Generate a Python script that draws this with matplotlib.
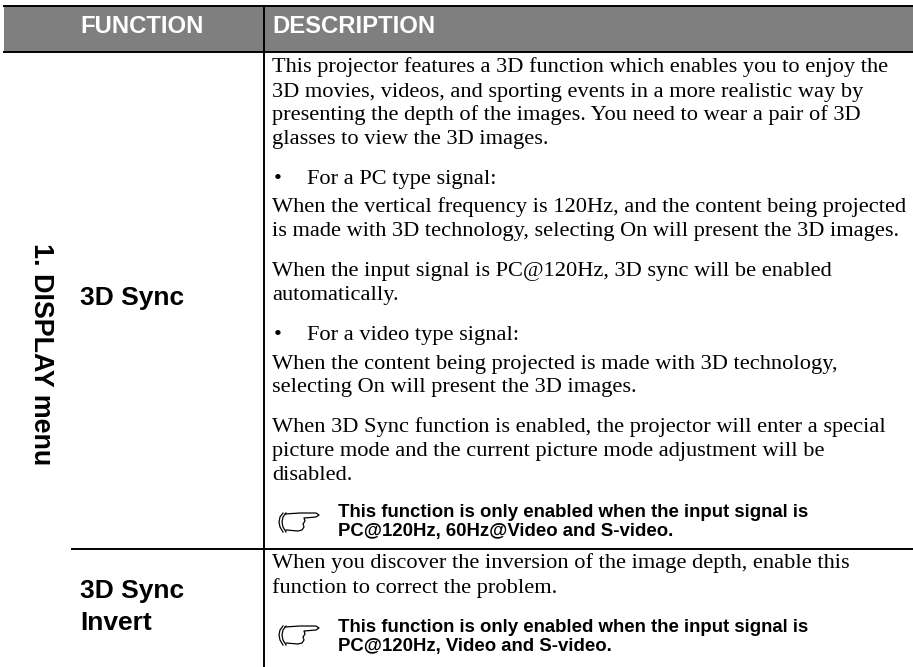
"""
Projector manual table page, 3D Sync rows
"""

import matplotlib.pyplot as plt

W, H = 913, 667

headers = ["FUNCTION", "DESCRIPTION"]
menu_label = "1. DISPLAY menu"
row_names = [(305, "3D Sync"), (598, "3D Sync"), (630, "Invert")]

body_lines = [
    (72, "This projector features a 3D function which enables you to enjoy the"),
    (97, "3D movies, videos, and sporting events in a more realistic way by"),
    (120, "presenting the depth of the images. You need to wear a pair of 3D"),
    (144, "glasses to view the 3D images."),
    (212, "When the vertical frequency is 120Hz, and the content being projected"),
    (236, "is made with 3D technology, selecting On will present the 3D images."),
    (276, "When the input signal is PC@120Hz, 3D sync will be enabled"),
    (300, "automatically."),
    (369, "When the content being projected is made with 3D technology,"),
    (392, "selecting On will present the 3D images."),
    (432, "When 3D Sync function is enabled, the projector will enter a special"),
    (456, "picture mode and the current picture mode adjustment will be"),
    (480, "disabled."),
    (568, "When you discover the inversion of the image depth, enable this"),
    (593, "function to correct the problem."),
]
bullet_lines = [
    (184, "For a PC type signal:"),
    (340, "For a video type signal:"),
]
note_lines = [
    (517, "This function is only enabled when the input signal is"),
    (536, "PC@120Hz, 60Hz@Video and S-video."),
    (632, "This function is only enabled when the input signal is"),
    (651, "PC@120Hz, Video and S-video."),
]
note_icons_y = [512, 625]

# hand outline, px from the icon corner
hand_x = [7, 22, 38, 41, 38, 26, 27, 25, 26, 24, 20, 8]
hand_y = [2, 1, 1, 3, 5, 6, 9, 12, 15, 18, 19, 18]
cuff_x = [5, 2, 1, 2, 5]
cuff_y = [1, 5, 10, 15, 20]

fig = plt.figure(figsize=(W / 100, H / 100), dpi=100)
ax = fig.add_axes([0, 0, 1, 1])
ax.set_xlim(0, W)
ax.set_ylim(H, 0)
ax.axis("off")

ax.fill_between([4, W], 6, 52, color="#7f7f7f", lw=0)
ax.plot([4, W], [6, 6], color="k", lw=1.4)
ax.plot([4, W], [52, 52], color="k", lw=1.4)
ax.plot([72, W], [549, 549], color="k", lw=1.4)
ax.plot([263.5, 263.5], [6, H], color="k", lw=1.4)

ax.text(80, 33, headers[0], color="white", family="Liberation Sans",
        weight="bold", fontsize=17.2, va="baseline")
ax.text(272, 33, headers[1], color="white", family="Liberation Sans",
        weight="bold", fontsize=17.2, va="baseline")

ax.text(41, 354.5, menu_label, rotation=270, family="Liberation Sans",
        weight="bold", fontsize=19.4, ha="center", va="center")

for y, name in row_names:
    ax.text(80, y, name, family="Liberation Sans", weight="bold",
            fontsize=19, va="baseline")

for y, line in body_lines:
    ax.text(272.5, y, line, family="Liberation Serif", fontsize=16.1, va="baseline")

for y, line in bullet_lines:
    ax.text(274, y, "•", family="Liberation Serif", fontsize=16.1, va="baseline")
    ax.text(307, y, line, family="Liberation Serif", fontsize=16.1, va="baseline")

for y, line in note_lines:
    ax.text(338, y, line, family="Liberation Sans", weight="bold",
            fontsize=13.45, va="baseline")

for y in note_icons_y:
    ax.plot([278 + v for v in hand_x], [y + v for v in hand_y], color="k", lw=0.9)
    ax.plot([278 + v for v in cuff_x], [y + v for v in cuff_y], color="k", lw=0.9)
    ax.plot([281 + v for v in cuff_x], [y + v for v in cuff_y], color="k", lw=0.9)

fig.savefig("out.png", dpi=100)
